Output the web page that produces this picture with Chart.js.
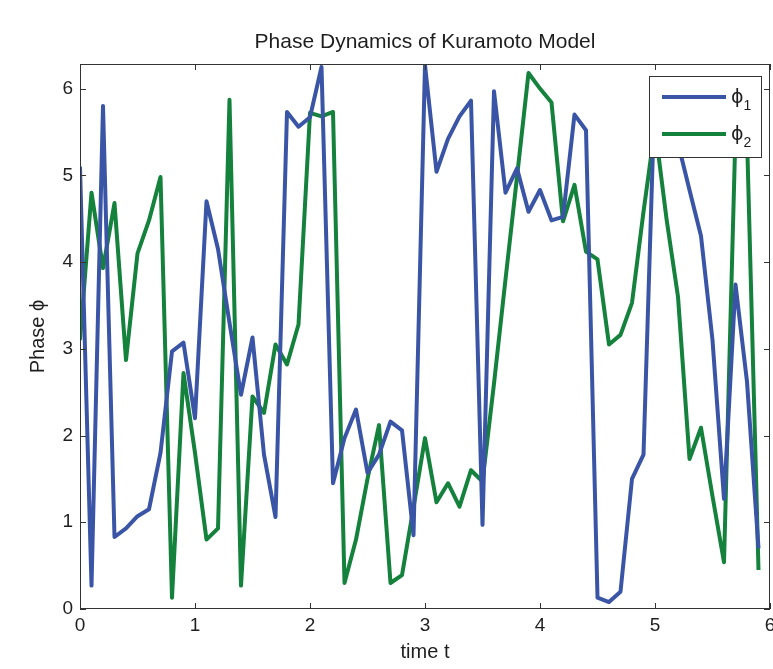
<!DOCTYPE html>
<html>
<head>
<meta charset="utf-8">
<script src="https://cdn.jsdelivr.net/npm/chart.js@4.4.0/dist/chart.umd.min.js"></script>
<style>
  html, body { margin: 0; padding: 0; background: #fff; }
</style>
</head>
<body>
<canvas id="canvas" width="773" height="669"></canvas>
<script>
(function() {

    function el(cssSelector){
        return document.querySelector(cssSelector)
    }

    // time samples (dt = 0.1)
    const times = [0, 0.1, 0.2, 0.3, 0.4, 0.5, 0.6, 0.7, 0.8, 0.9,
                   1, 1.1, 1.2, 1.3, 1.4, 1.5, 1.6, 1.7, 1.8, 1.9,
                   2, 2.1, 2.2, 2.3, 2.4, 2.5, 2.6, 2.7, 2.8, 2.9,
                   3, 3.1, 3.2, 3.3, 3.4, 3.5, 3.6, 3.7, 3.8, 3.9,
                   4, 4.1, 4.2, 4.3, 4.4, 4.5, 4.6, 4.7, 4.8, 4.9,
                   5, 5.1, 5.2, 5.3, 5.4, 5.5, 5.6, 5.7, 5.8, 5.9]

    const phi1 = [5.1, 0.27, 5.8, 0.83, 0.93, 1.07, 1.15, 1.8, 2.97, 3.07,
                  2.2, 4.7, 4.15, 3.3, 2.47, 3.13, 1.78, 1.06, 5.73, 5.56,
                  5.67, 6.25, 1.45, 1.97, 2.3, 1.57, 1.78, 2.16, 2.06, 0.85,
                  6.27, 5.04, 5.42, 5.68, 5.86, 0.97, 5.97, 4.8, 5.08, 4.58,
                  4.83, 4.48, 4.52, 5.7, 5.52, 0.13, 0.08, 0.2, 1.5, 1.78,
                  6.05, 5.7, 5.37, 4.83, 4.3, 3.1, 1.27, 3.74, 2.62, 0.7]

    const phi2 = [3.1, 4.8, 3.93, 4.68, 2.87, 4.1, 4.48, 4.98, 0.13, 2.72,
                  1.8, 0.8, 0.93, 5.87, 0.27, 2.45, 2.26, 3.05, 2.82, 3.28,
                  5.72, 5.68, 5.73, 0.3, 0.8, 1.5, 2.12, 0.3, 0.39, 1.17,
                  1.97, 1.23, 1.45, 1.18, 1.6, 1.47, 2.6, 3.8, 4.98, 6.18,
                  6.0, 5.84, 4.47, 4.89, 4.12, 4.03, 3.05, 3.16, 3.53, 4.58,
                  5.55, 4.5, 3.6, 1.73, 2.09, 1.3, 0.54, 5.5, 5.45, 0.45]

    const seriesNames = ['ϕ1', 'ϕ2']
    const seriesColors = ['#3a55a6', '#14823c']
    const xTicks = [0, 1, 2, 3, 4, 5, 6]
    const yTicks = [0, 1, 2, 3, 4, 5, 6]
    const chartTitle = 'Phase Dynamics of Kuramoto Model'

    const fontFam = '"Liberation Sans", Arial, Helvetica, sans-serif'
    const textColor = '#1e1e1e'

    function toPoints(ys){
        return ys.map((y, i) => ({x: times[i], y: y}))
    }

    // title centred over the plot box, not the canvas
    const titlePlugin = {
        id: 'plotTitle',
        afterDraw(chart){
            const {ctx, chartArea: a} = chart
            ctx.save()
            ctx.fillStyle = textColor
            ctx.font = '21px ' + fontFam
            ctx.textAlign = 'center'
            ctx.textBaseline = 'middle'
            ctx.fillText(chartTitle, (a.left + a.right) / 2, 42)
            ctx.restore()
        }
    }

    // matlab style box with inward ticks
    const boxPlugin = {
        id: 'boxTicks',
        afterDatasetsDraw(chart){
            const {ctx, chartArea: a, scales} = chart
            const len = 6
            ctx.save()
            ctx.strokeStyle = '#333'
            ctx.lineWidth = 1
            ctx.beginPath()
            xTicks.forEach(v => {
                const px = Math.round(scales.x.getPixelForValue(v)) + 0.5
                ctx.moveTo(px, a.bottom); ctx.lineTo(px, a.bottom - len)
                ctx.moveTo(px, a.top); ctx.lineTo(px, a.top + len)
            })
            yTicks.forEach(v => {
                const py = Math.round(scales.y.getPixelForValue(v)) + 0.5
                ctx.moveTo(a.left, py); ctx.lineTo(a.left + len, py)
                ctx.moveTo(a.right, py); ctx.lineTo(a.right - len, py)
            })
            ctx.stroke()
            ctx.strokeRect(Math.round(a.left) + 0.5, Math.round(a.top) + 0.5,
                Math.round(a.right - a.left) - 1, Math.round(a.bottom - a.top) - 1)
            ctx.restore()
        }
    }

    // boxed legend in the upper right corner
    const legendPlugin = {
        id: 'legendBox',
        afterDraw(chart){
            const {ctx, chartArea: a} = chart
            const w = 112, h = 81
            const x0 = Math.round(a.right - 9 - w), y0 = Math.round(a.top + 12)
            ctx.save()
            ctx.fillStyle = '#fff'
            ctx.fillRect(x0, y0, w, h)
            ctx.strokeStyle = '#333'
            ctx.lineWidth = 1
            ctx.strokeRect(x0 + 0.5, y0 + 0.5, w, h)
            chart.data.datasets.forEach((ds, i) => {
                const y = y0 + 21 + i * 37
                ctx.strokeStyle = ds.borderColor
                ctx.lineWidth = 4
                ctx.beginPath()
                ctx.moveTo(x0 + 13, y)
                ctx.lineTo(x0 + 77, y)
                ctx.stroke()
                ctx.fillStyle = textColor
                ctx.textBaseline = 'middle'
                ctx.font = '19px "DejaVu Sans", sans-serif'
                const main = ds.label.charAt(0)
                ctx.fillText(main, x0 + 82, y + 1)
                const mw = ctx.measureText(main).width
                ctx.font = '14px ' + fontFam
                ctx.fillText(ds.label.slice(1), x0 + 82 + mw, y + 9)
            })
            ctx.restore()
        }
    }

    new Chart(el('#canvas').getContext('2d'), {
        type: 'line',
        data: {
            datasets: [0, 1].map(i => ({
                label: seriesNames[i],
                data: toPoints(i === 0 ? phi1 : phi2),
                borderColor: seriesColors[i],
                backgroundColor: seriesColors[i],
                borderWidth: 4,
                pointRadius: 0,
                tension: 0,
                borderJoinStyle: 'round',
                fill: false
            }))
        },
        options: {
            responsive: false,
            animation: false,
            layout: { padding: { left: 0, right: 3, top: 64, bottom: 0 } },
            plugins: {
                legend: { display: false },
                tooltip: { enabled: false },
                title: { display: false }
            },
            scales: {
                x: {
                    type: 'linear',
                    min: 0,
                    max: 6,
                    afterBuildTicks: s => { s.ticks = xTicks.map(v => ({value: v})) },
                    afterFit: s => { s.height = 60; s.paddingLeft = 0; s.paddingRight = 0 },
                    grid: { display: false, drawTicks: false },
                    border: { display: false },
                    ticks: { color: textColor, padding: 5, maxRotation: 0, font: { family: fontFam, size: 19 } },
                    title: {
                        display: true,
                        text: 'time t',
                        color: textColor,
                        font: { family: fontFam, size: 20 },
                        padding: { top: 0, bottom: 5 }
                    }
                },
                y: {
                    type: 'linear',
                    min: 0,
                    max: 2 * Math.PI,
                    afterBuildTicks: s => { s.ticks = yTicks.map(v => ({value: v})) },
                    afterFit: s => { s.width = 80; s.paddingTop = 0; s.paddingBottom = 0 },
                    grid: { display: false, drawTicks: false },
                    border: { display: false },
                    ticks: { color: textColor, padding: 7, font: { family: fontFam, size: 19 } },
                    title: {
                        display: true,
                        text: 'Phase ϕ',
                        color: textColor,
                        font: { family: fontFam, size: 20 },
                        padding: { top: 26, bottom: 0 }
                    }
                }
            }
        },
        plugins: [boxPlugin, legendPlugin, titlePlugin]
    })

}())
</script>
</body>
</html>
